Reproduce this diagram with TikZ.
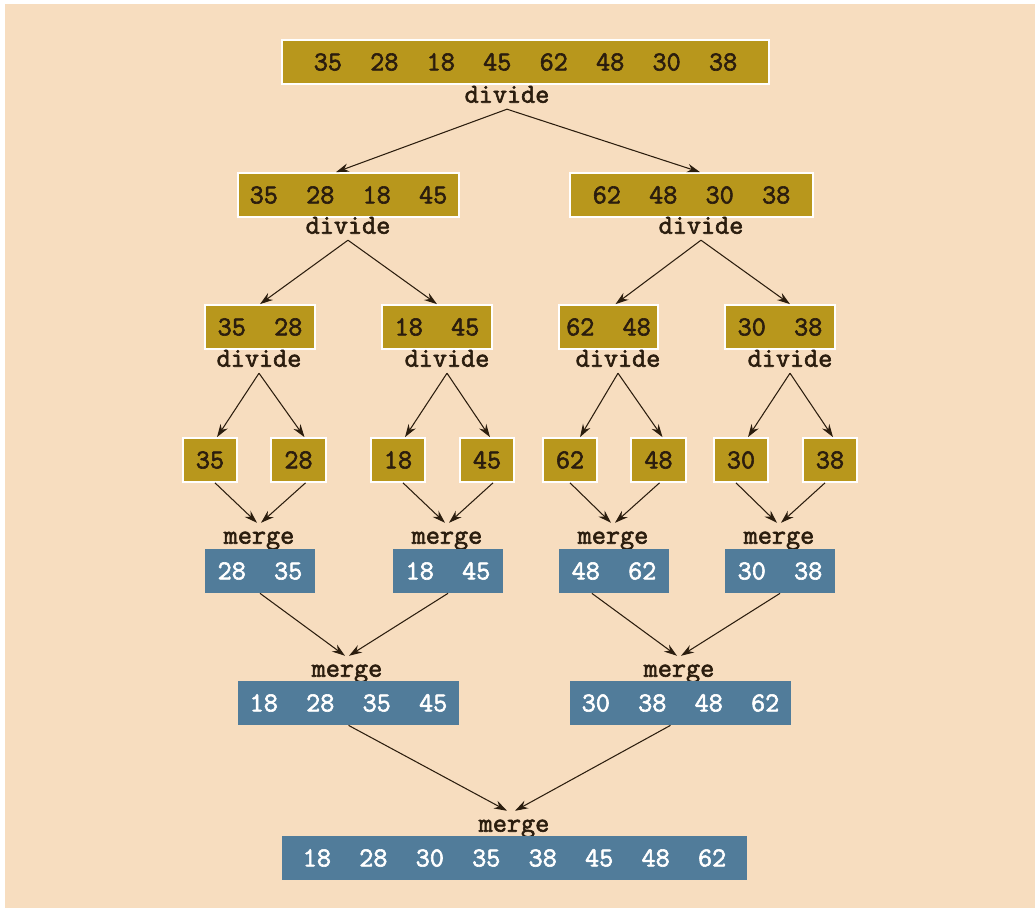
\documentclass[tikz,border=0pt]{standalone}
\usepackage{fontspec}
\setmonofont{Latin Modern Mono}[AutoFakeBold=2.2]
\usetikzlibrary{arrows.meta,calc}

\definecolor{bgpeach}{HTML}{F7DDBF}
\definecolor{boxgold}{HTML}{B8971C}
\definecolor{boxblue}{HTML}{517C9A}
\definecolor{inkdark}{HTML}{2B1D0E}

\newcommand{\numfont}{\ttfamily\bfseries\fontsize{15.6pt}{18pt}\selectfont}

\begin{document}
\begin{tikzpicture}[
  x=0.02cm, y=-0.02cm,
  split/.style={draw=white, line width=0.035cm, fill=boxgold, text=inkdark, minimum height=0.88cm, inner sep=0pt, font=\numfont},
  sorted/.style={fill=boxblue, text=white, minimum height=0.88cm, inner sep=0pt, font=\numfont},
  tag/.style={text=inkdark, inner sep=1pt, text height=9pt, text depth=2.5pt, font=\numfont},
  arr/.style={-{Stealth[length=0.26cm,width=0.17cm]}, semithick, draw=inkdark}
]

% page
\fill[white] (0,0) rectangle (1035,908);
\fill[bgpeach] (5,4) rectangle (1035,908);

% divide half
\node[split, minimum width=487*0.02cm] (n0) at (525.5,62) {35~~28~~18~~45~~62~~48~~30~~38};
\node[tag] (dv0) at (507,97) {divide};

\node[split, minimum width=221*0.02cm] (h1) at (348.5,195) {35~~28~~18~~45};
\node[split, minimum width=243*0.02cm] (h2) at (691.5,195) {62~~48~~30~~38};
\node[tag] (dvh1) at (348,228) {divide};
\node[tag] (dvh2) at (701,228) {divide};
\draw[arr] (dv0.south) -- ([xshift=-0.25cm]h1.north);
\draw[arr] (dv0.south) -- ([xshift=0.17cm]h2.north);

\node[split, minimum width=110*0.02cm] (q1) at (260,327) {35~~28};
\node[split, minimum width=110*0.02cm] (q2) at (437,327) {18~~45};
\node[split, minimum width=99*0.02cm] (q3) at (608.5,327) {62~~48};
\node[split, minimum width=110*0.02cm] (q4) at (780,327) {30~~38};
\node[tag] (dvq1) at (259,361) {divide};
\node[tag] (dvq2) at (447,361) {divide};
\node[tag] (dvq3) at (618,361) {divide};
\node[tag] (dvq4) at (790,361) {divide};
\draw[arr] (dvh1.south) -- (q1.north);
\draw[arr] (dvh1.south) -- (q2.north);
\draw[arr] (dvh2.south) -- ([xshift=0.14cm]q3.north);
\draw[arr] (dvh2.south) -- ([xshift=0.2cm]q4.north);

\node[split, minimum width=54*0.02cm] (s1) at (210,460) {35};
\node[split, minimum width=55*0.02cm] (s2) at (298.5,460) {28};
\node[split, minimum width=54*0.02cm] (s3) at (398,460) {18};
\node[split, minimum width=54*0.02cm] (s4) at (487,460) {45};
\node[split, minimum width=54*0.02cm] (s5) at (570,460) {62};
\node[split, minimum width=55*0.02cm] (s6) at (658.5,460) {48};
\node[split, minimum width=54*0.02cm] (s7) at (741,460) {30};
\node[split, minimum width=54*0.02cm] (s8) at (830,460) {38};
\draw[arr] (dvq1.south) -- ([xshift=0.14cm]s1.north);
\draw[arr] (dvq1.south) -- ([xshift=0.12cm]s2.north);
\draw[arr] (dvq2.south) -- ([xshift=0.14cm]s3.north);
\draw[arr] (dvq2.south) -- ([xshift=0.06cm]s4.north);
\draw[arr] (dvq3.south) -- ([xshift=0.2cm]s5.north);
\draw[arr] (dvq3.south) -- ([xshift=0.08cm]s6.north);
\draw[arr] (dvq4.south) -- ([xshift=0.14cm]s7.north);
\draw[arr] (dvq4.south) -- ([xshift=0.06cm]s8.north);

% merge half
\node[tag] (mg1) at (259,538) {merge};
\node[tag] (mg2) at (447,538) {merge};
\node[tag] (mg3) at (613,538) {merge};
\node[tag] (mg4) at (779,538) {merge};
\node[sorted, minimum width=110*0.02cm] (p1) at (260,571) {28~~35};
\node[sorted, minimum width=110*0.02cm] (p2) at (448,571) {18~~45};
\node[sorted, minimum width=110*0.02cm] (p3) at (614,571) {48~~62};
\node[sorted, minimum width=110*0.02cm] (p4) at (780,571) {30~~38};
\draw[arr] ([xshift=0.1cm]s1.south) -- ([xshift=-0.04cm,yshift=0.06cm]mg1.north);
\draw[arr] ([xshift=0.14cm]s2.south) -- ([xshift=0.04cm,yshift=0.06cm]mg1.north);
\draw[arr] ([xshift=0.1cm]s3.south) -- ([xshift=-0.04cm,yshift=0.06cm]mg2.north);
\draw[arr] ([xshift=0.12cm]s4.south) -- ([xshift=0.04cm,yshift=0.06cm]mg2.north);
\draw[arr] (s5.south) -- ([xshift=-0.04cm,yshift=0.06cm]mg3.north);
\draw[arr] ([xshift=0.02cm]s6.south) -- ([xshift=0.04cm,yshift=0.06cm]mg3.north);
\draw[arr] ([xshift=-0.1cm]s7.south) -- ([xshift=-0.04cm,yshift=0.06cm]mg4.north);
\draw[arr] ([xshift=-0.1cm]s8.south) -- ([xshift=0.04cm,yshift=0.06cm]mg4.north);

\node[tag] (mgh1) at (347,671) {merge};
\node[tag] (mgh2) at (679,671) {merge};
\node[sorted, minimum width=221*0.02cm] (r1) at (348.5,703) {18~~28~~35~~45};
\node[sorted, minimum width=221*0.02cm] (r2) at (680.5,703) {30~~38~~48~~62};
\draw[arr] (p1.south) -- ([xshift=-0.04cm,yshift=0.06cm]mgh1.north);
\draw[arr] (p2.south) -- ([xshift=0.04cm,yshift=0.06cm]mgh1.north);
\draw[arr] ($(p3.south west)!0.3!(p3.south east)$) -- ([xshift=-0.04cm,yshift=0.06cm]mgh2.north);
\draw[arr] (p4.south) -- ([xshift=0.04cm,yshift=0.06cm]mgh2.north);

\node[tag] (mgall) at (514,826) {merge};
\node[sorted, minimum width=465*0.02cm] (res) at (514.5,858) {18~~28~~30~~35~~38~~45~~48~~62};
\draw[arr] (r1.south) -- ([xshift=-0.14cm,yshift=0.06cm]mgall.north);
\draw[arr] ([xshift=-0.2cm]r2.south) -- ([xshift=0.02cm,yshift=0.06cm]mgall.north);

\end{tikzpicture}
\end{document}
